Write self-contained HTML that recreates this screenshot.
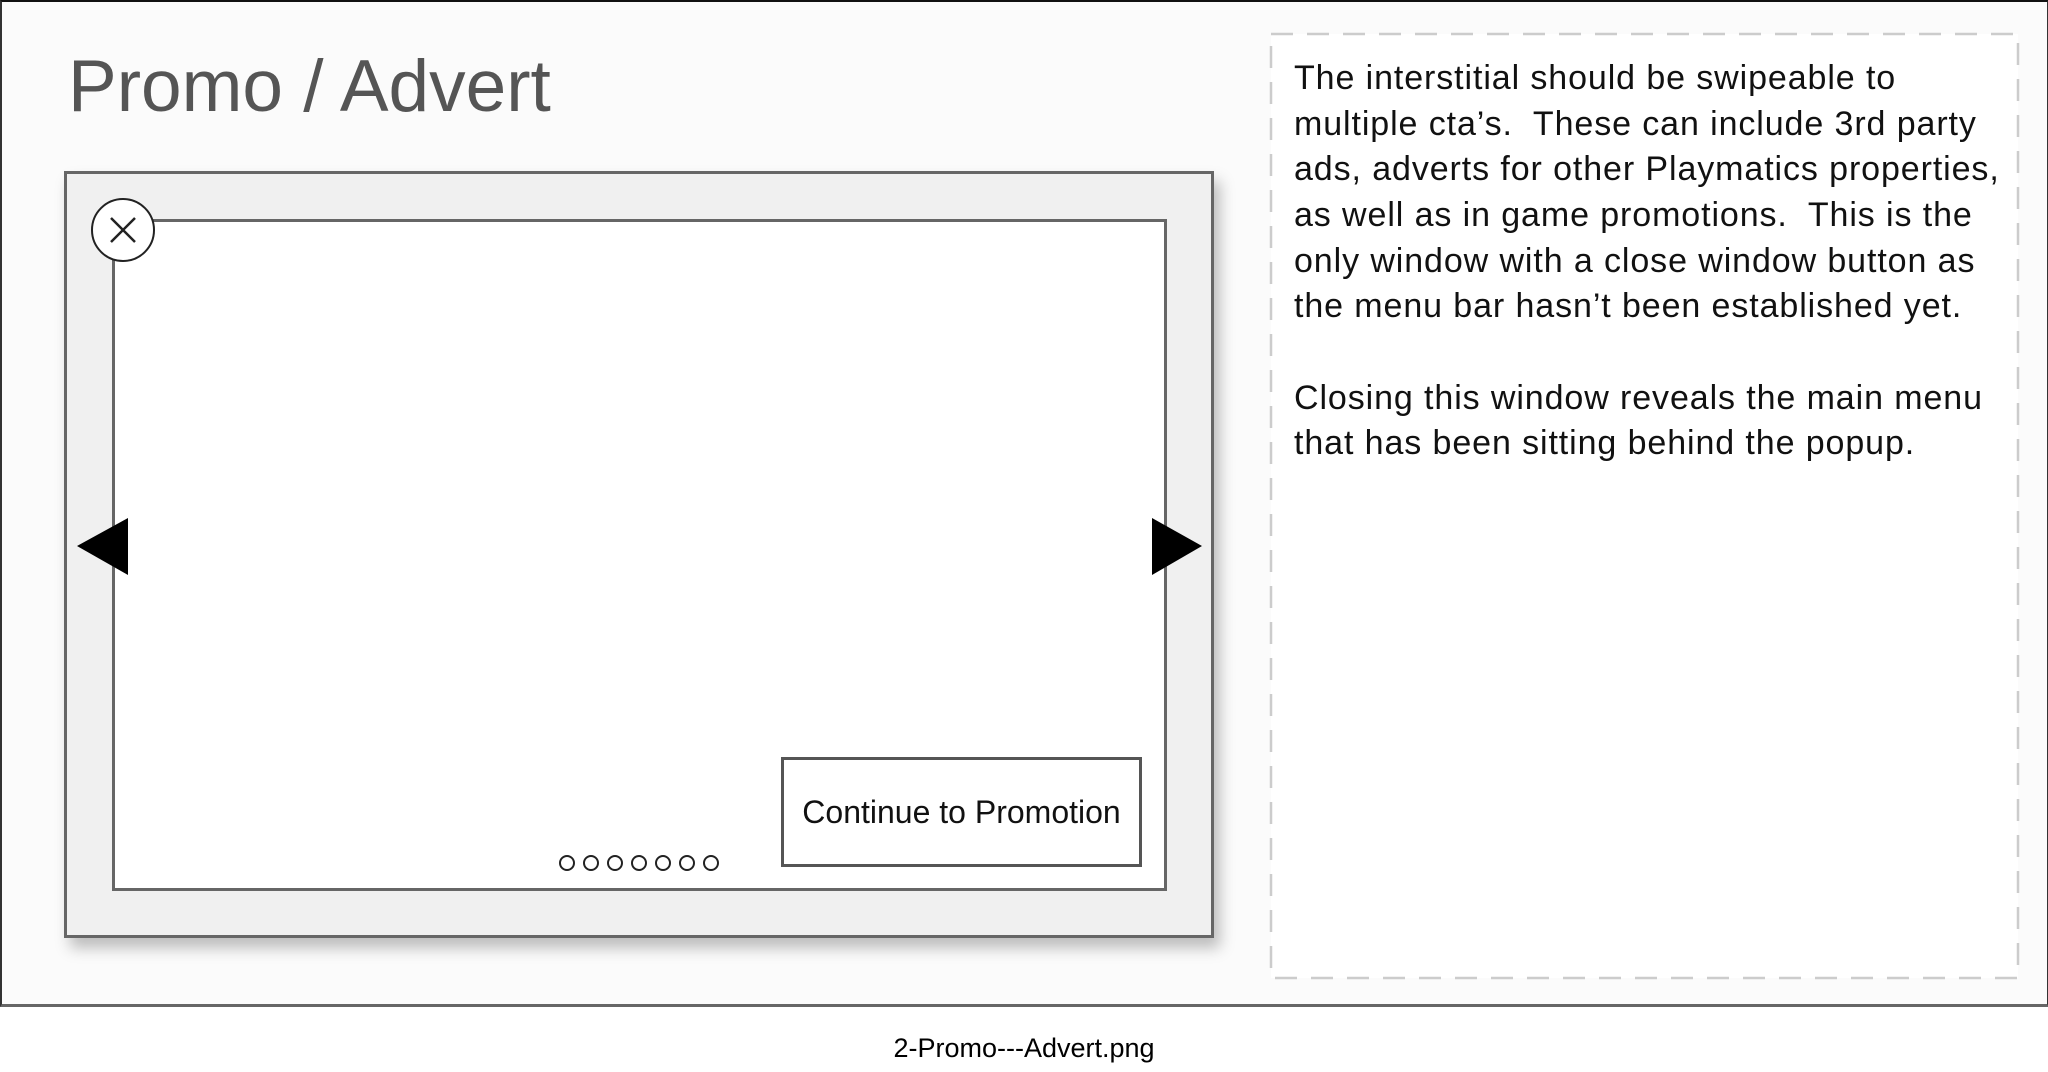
<!DOCTYPE html>
<html><head><meta charset="utf-8"><style>
body{margin:0;width:2048px;height:1072px;background:#fff;position:relative;overflow:hidden;font-family:"Liberation Sans",sans-serif}
.abs{position:absolute}
.line{position:absolute;left:1294px;font-size:34px;letter-spacing:0.9px;color:#111;white-space:nowrap;line-height:1}
</style></head><body>
<div class="abs" style="left:0;top:0;width:2045px;height:1002px;background:#fbfbfb;border-top:2px solid #111;border-left:2px solid #333;border-right:2px solid #333;border-bottom:3px solid #666"></div>
<div class="abs" style="left:68px;top:50px;font-size:73px;color:#555;line-height:1">Promo / Advert</div>
<div class="abs" style="left:64px;top:171px;width:1144px;height:761px;background:#f0f0f0;border:3px solid #666;box-shadow:6px 10px 14px rgba(0,0,0,0.25)"></div>
<div class="abs" style="left:112px;top:219px;width:1049px;height:666px;background:#fff;border:3px solid #666"></div>
<svg class="abs" style="left:0;top:0" width="2048" height="1072">
<circle cx="123" cy="230" r="31" fill="#fff" stroke="#222" stroke-width="2"/>
<path d="M111 218 L135 242 M135 218 L111 242" stroke="#222" stroke-width="2.5"/>
<polygon points="77,546 128,518 128,575" fill="#000"/>
<polygon points="1152,518 1152,575 1202,546" fill="#000"/>
<g fill="none" stroke="#222" stroke-width="2">
<circle cx="567" cy="863" r="7"/><circle cx="591" cy="863" r="7"/><circle cx="615" cy="863" r="7"/><circle cx="639" cy="863" r="7"/><circle cx="663" cy="863" r="7"/><circle cx="687" cy="863" r="7"/><circle cx="711" cy="863" r="7"/>
</g>
<rect x="1271" y="34" width="747" height="944" fill="#fff" stroke="#ccc" stroke-width="2.5" stroke-dasharray="22,14"/>
</svg>
<div class="abs" style="left:781px;top:757px;width:355px;height:104px;background:#fff;border:3px solid #555;display:flex;align-items:center;justify-content:center;font-size:32px;color:#111">Continue to Promotion</div>
<div class="line" style="top:61px">The interstitial should be swipeable to</div>
<div class="line" style="top:107px">multiple cta’s.&nbsp; These can include 3rd party</div>
<div class="line" style="top:152px">ads, adverts for other Playmatics properties,</div>
<div class="line" style="top:198px">as well as in game promotions.&nbsp; This is the</div>
<div class="line" style="top:244px">only window with a close window button as</div>
<div class="line" style="top:289px">the menu bar hasn’t been established yet.</div>
<div class="line" style="top:381px">Closing this window reveals the main menu</div>
<div class="line" style="top:426px">that has been sitting behind the popup.</div>
<div class="abs" style="left:0;width:2048px;top:1033px;text-align:center;font-size:27px;color:#000">2-Promo---Advert.png</div>
</body></html>
